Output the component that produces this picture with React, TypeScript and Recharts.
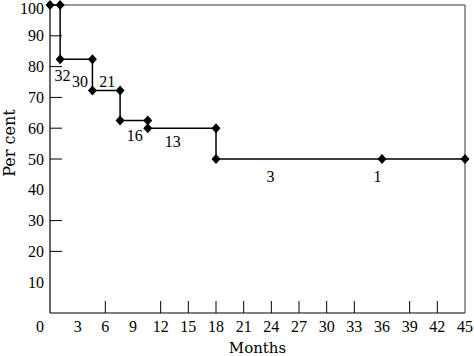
import React from 'react';
import { ComposedChart, Line, Scatter, XAxis, YAxis, ReferenceLine } from 'recharts';

const months = [0, 1.1, 1.1, 4.6, 4.6, 7.6, 7.6, 10.6, 10.6, 18, 18, 36, 45];
const percent = [100, 100, 82.4, 82.4, 72.2, 72.2, 62.5, 62.5, 60, 60, 50, 50, 50];

const atRiskText = ['32', '30', '21', '16', '13', '3', '1'];
const atRiskMonth = [1.35, 3.25, 6.2, 9.2, 13.3, 23.9, 35.5];
const atRiskPct = [77.1, 75.3, 75.3, 57.5, 55.8, 44.2, 44.2];

const xTicks = [0, 3, 6, 9, 12, 15, 18, 21, 24, 27, 30, 33, 36, 39, 42, 45];
const yTicks = [10, 20, 30, 40, 50, 60, 70, 80, 90, 100];
const xTicksMarked = [6, 12, 15, 18, 21, 24, 27, 30, 33, 39, 42];
const yTicksMarked = [20, 30, 50, 60, 70, 80, 90];

const curve = months.map((m, i) => ({ month: m, pct: percent[i] }));
const notes = atRiskText.map((t, i) => ({ month: atRiskMonth[i], pct: atRiskPct[i], text: t }));

const FONT = '"Liberation Serif", serif';
const LABEL_FONT = '"DejaVu Serif", serif';

const Diamond = (props: any) => {
  const { cx, cy } = props;
  if (cx == null || cy == null) return null;
  return (
    <polygon
      points={`${cx},${cy - 5} ${cx + 4.5},${cy} ${cx},${cy + 5} ${cx - 4.5},${cy}`}
      fill="#000"
      stroke="none"
    />
  );
};

const NoteShape = (props: any) => {
  const { cx, cy, payload } = props;
  return (
    <text x={cx} y={cy} textAnchor="middle" dominantBaseline="central" fontFamily={FONT} fontSize={16} fill="#000">
      {payload.text}
    </text>
  );
};

const XTick = (props: any) => {
  const { x, y, payload } = props;
  const v = payload.value;
  const dx = v === 0 ? -10 : 0;
  return (
    <g>
      {xTicksMarked.includes(v) && <line x1={x} y1={y} x2={x} y2={y - 12} stroke="#000" strokeWidth={1} />}
      <text x={x + dx} y={y + 19} textAnchor="middle" fontFamily={FONT} fontSize={16} fill="#000">
        {v}
      </text>
    </g>
  );
};

const YTick = (props: any) => {
  const { x, y, payload } = props;
  const v = payload.value;
  const dy = v === 100 ? 3 : 0;
  return (
    <g>
      {yTicksMarked.includes(v) && <line x1={x} y1={y} x2={x + 12} y2={y} stroke="#000" strokeWidth={1} />}
      <text x={x - 6} y={y + dy} textAnchor="end" dominantBaseline="central" fontFamily={FONT} fontSize={16} fill="#000">
        {v}
      </text>
    </g>
  );
};

export default function App() {
  return (
    <div style={{ position: 'absolute', left: 0, top: 0, width: 474, height: 356, background: '#fff' }}>
      <ComposedChart width={474} height={356} margin={{ top: 5, right: 9, bottom: 0, left: 0 }} data={curve}>
        <XAxis
          dataKey="month"
          type="number"
          domain={[0, 45]}
          ticks={xTicks}
          interval={0}
          tickSize={0}
          tickMargin={0}
          tickLine={false}
          tick={<XTick />}
          height={43}
          axisLine={{ stroke: '#000', strokeWidth: 1.2 }}
          allowDuplicatedCategory={false}
          label={{
            content: (p: any) => {
              const vb = p.viewBox || { x: 50, y: 313, width: 415, height: 43 };
              return (
                <text x={vb.x + vb.width / 2} y={vb.y + 40} textAnchor="middle" fontFamily={LABEL_FONT} fontSize={15} fill="#000">
                  Months
                </text>
              );
            },
          }}
        />
        <YAxis
          dataKey="pct"
          type="number"
          domain={[0, 100]}
          ticks={yTicks}
          interval={0}
          width={50}
          tickSize={0}
          tickMargin={0}
          tickLine={false}
          tick={<YTick />}
          axisLine={{ stroke: '#000', strokeWidth: 1.2 }}
          label={{
            content: (p: any) => {
              const vb = p.viewBox || { x: 0, y: 5, width: 50, height: 308 };
              const cx = vb.x + 9;
              const cy = vb.y + vb.height / 2 - 16;
              return (
                <text x={cx} y={cy} transform={`rotate(-90 ${cx} ${cy})`} textAnchor="middle" dominantBaseline="central" fontFamily={LABEL_FONT} fontSize={16} fill="#000">
                  Per cent
                </text>
              );
            },
          }}
        />
        <ReferenceLine y={100} stroke="#333" strokeWidth={1} />
        <ReferenceLine x={45} stroke="#333" strokeWidth={1} />
        <Line
          type="linear"
          dataKey="pct"
          stroke="#000"
          strokeWidth={1.5}
          dot={<Diamond />}
          activeDot={false}
          isAnimationActive={false}
        />
        <Scatter data={notes} dataKey="pct" shape={<NoteShape />} isAnimationActive={false} />
      </ComposedChart>
    </div>
  );
}
